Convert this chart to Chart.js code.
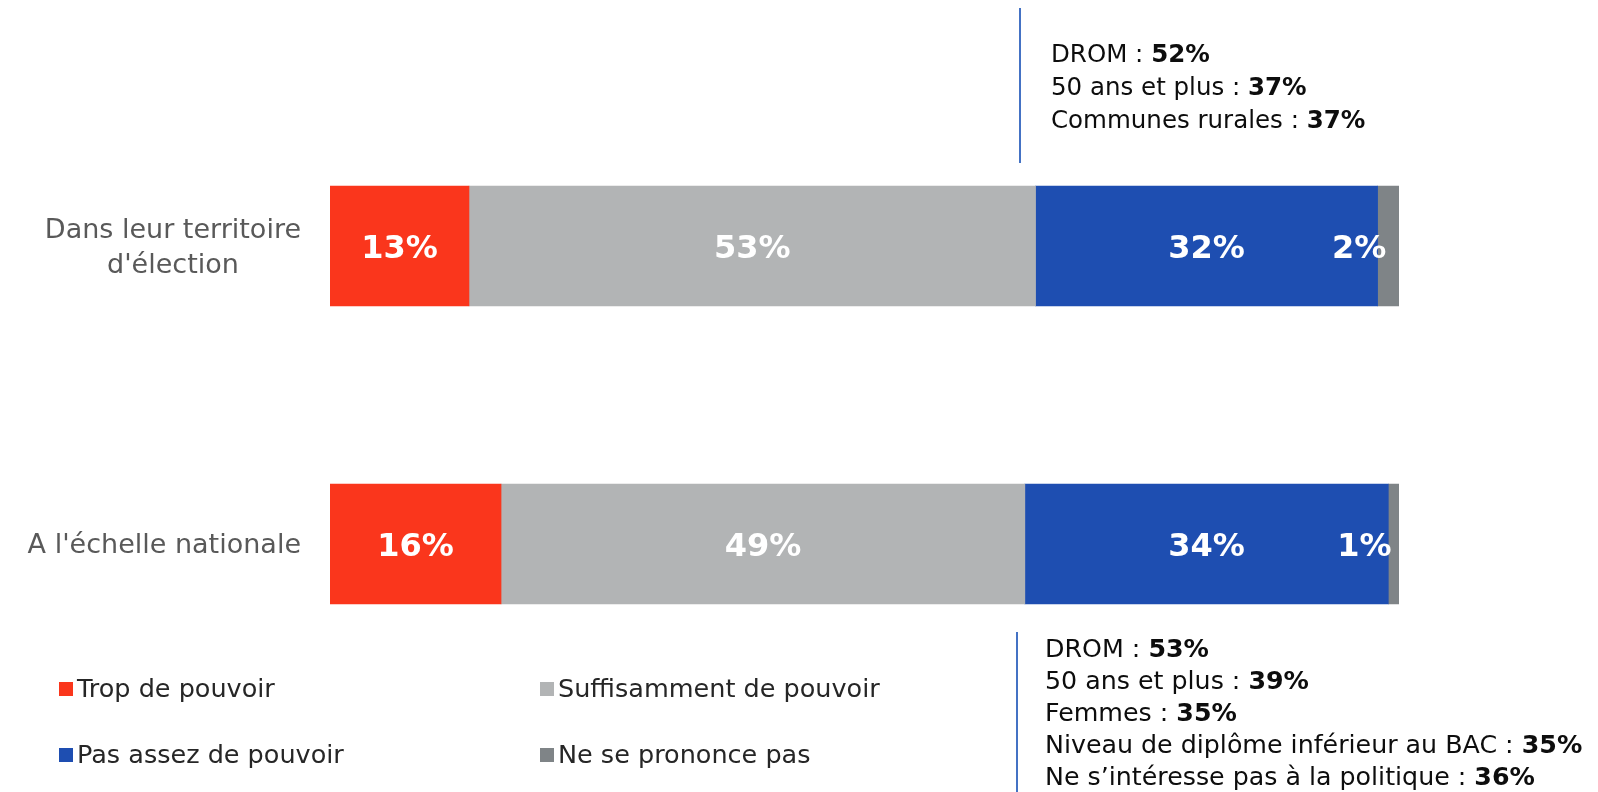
<!DOCTYPE html>
<html lang="fr">
<head>
    <meta charset="UTF-8">
    <title>Pouvoir des élus</title>
    <style>
        body {
            margin: 0;
            padding: 0;
            background: #ffffff;
        }
        #powerChart {
            display: block;
        }
    </style>
    <script src="https://cdn.jsdelivr.net/npm/chart.js"></script>
</head>
<body>

<canvas id="powerChart" width="1598" height="792" style="width:1598px;height:792px;"></canvas>

<script>
    // Data
    const categories = [["Dans leur territoire", "d'élection"], "A l'échelle nationale"];
    const seriesNames = ['Trop de pouvoir', 'Suffisamment de pouvoir', 'Pas assez de pouvoir', 'Ne se prononce pas'];
    const tropDePouvoir = [13, 16];
    const suffisamment = [53, 49];
    const pasAssez = [32, 34];
    const nsp = [2, 1];
    const seriesColors = ['#FA361C', '#B2B4B5', '#1E4EB1', '#7F8487'];

    // Sub-group notes ([label, value])
    const notesTerritoire = [
        ['DROM : ', '52%'],
        ['50 ans et plus : ', '37%'],
        ['Communes rurales : ', '37%']
    ];
    const notesNational = [
        ['DROM : ', '53%'],
        ['50 ans et plus : ', '39%'],
        ['Femmes : ', '35%'],
        ['Niveau de diplôme inférieur au BAC : ', '35%'],
        ['Ne s\u2019intéresse pas à la politique : ', '36%']
    ];

    const FONT = "'DejaVu Sans', 'Noto Sans', sans-serif";

    // Category labels on the left (centred block, right edge at 301)
    const categoryLabels = {
        id: 'categoryLabels',
        afterDraw(chart) {
            const ctx = chart.ctx;
            const yScale = chart.scales.y;
            ctx.save();
            ctx.font = '27px ' + FONT;
            ctx.fillStyle = '#595959';
            ctx.textBaseline = 'middle';
            ctx.textAlign = 'center';
            categories.forEach((cat, i) => {
                const lines = Array.isArray(cat) ? cat : [cat];
                const w = Math.max(...lines.map(l => ctx.measureText(l).width));
                const cx = 301 - w / 2;
                const y = yScale.getPixelForValue(i) + 2;
                const lh = 35;
                lines.forEach((line, j) => {
                    ctx.fillText(line, cx, y + (j - (lines.length - 1) / 2) * lh);
                });
            });
            ctx.restore();
        }
    };

    // Value labels inside the bars
    const valueLabels = {
        id: 'valueLabels',
        afterDatasetsDraw(chart) {
            const ctx = chart.ctx;
            ctx.save();
            ctx.font = 'bold 32px ' + FONT;
            ctx.fillStyle = '#ffffff';
            ctx.textBaseline = 'middle';
            chart.data.datasets.forEach((ds, di) => {
                const meta = chart.getDatasetMeta(di);
                meta.data.forEach((bar, i) => {
                    const text = ds.data[i] + '%';
                    const left = Math.min(bar.x, bar.base);
                    const right = Math.max(bar.x, bar.base);
                    const tw = ctx.measureText(text).width;
                    if (right - left > tw + 6) {
                        ctx.textAlign = 'center';
                        ctx.fillText(text, (left + right) / 2, bar.y + 4);
                    } else {
                        ctx.textAlign = 'right';
                        ctx.fillText(text, (left + right) / 2 - 2, bar.y + 4);
                    }
                });
            });
            ctx.restore();
        }
    };

    // Notes with a vertical blue rule
    function drawNotes(ctx, notes, size, lineX, lineTop, lineBottom, textX, firstBaseline, step) {
        ctx.strokeStyle = '#4472C4';
        ctx.lineWidth = 2;
        ctx.beginPath();
        ctx.moveTo(lineX, lineTop);
        ctx.lineTo(lineX, lineBottom);
        ctx.stroke();
        ctx.fillStyle = '#0d0d0d';
        ctx.textAlign = 'left';
        ctx.textBaseline = 'alphabetic';
        notes.forEach((n, i) => {
            const y = firstBaseline + i * step;
            ctx.font = size + 'px ' + FONT;
            ctx.fillText(n[0], textX, y);
            const w = ctx.measureText(n[0]).width;
            ctx.font = 'bold ' + size + 'px ' + FONT;
            ctx.fillText(n[1], textX + w, y);
        });
    }

    const notesPlugin = {
        id: 'notes',
        afterDraw(chart) {
            const ctx = chart.ctx;
            ctx.save();
            drawNotes(ctx, notesTerritoire, 24.5, 1020, 8, 163, 1051, 62, 33);
            drawNotes(ctx, notesNational, 25.3, 1017, 632, 792, 1045, 657, 32);
            ctx.restore();
        }
    };

    // Legend in two columns at the bottom left
    const legendPlugin = {
        id: 'twoColLegend',
        afterDraw(chart) {
            const ctx = chart.ctx;
            const cols = [59, 540];
            const rows = [689, 755];
            ctx.save();
            ctx.font = '25.5px ' + FONT;
            ctx.textBaseline = 'middle';
            ctx.textAlign = 'left';
            chart.data.datasets.forEach((ds, i) => {
                const x = cols[i % 2];
                const y = rows[Math.floor(i / 2)];
                ctx.fillStyle = ds.backgroundColor;
                ctx.fillRect(x, y - 7, 14, 14);
                ctx.fillStyle = '#262626';
                ctx.fillText(ds.label, x + 18, y + 1);
            });
            ctx.restore();
        }
    };

    const seriesData = [tropDePouvoir, suffisamment, pasAssez, nsp];

    new Chart(document.getElementById('powerChart'), {
        type: 'bar',
        data: {
            labels: categories,
            datasets: seriesNames.map((name, i) => ({
                label: name,
                data: seriesData[i],
                backgroundColor: seriesColors[i],
                borderWidth: 0,
                barThickness: 120
            }))
        },
        options: {
            indexAxis: 'y',
            responsive: false,
            animation: false,
            layout: {
                padding: { left: 330, right: 199, top: 97, bottom: 99 }
            },
            scales: {
                x: { stacked: true, min: 0, max: 100, display: false },
                y: { stacked: true, display: false }
            },
            plugins: {
                legend: { display: false },
                tooltip: { enabled: false }
            }
        },
        plugins: [valueLabels, categoryLabels, notesPlugin, legendPlugin]
    });
</script>

</body>
</html>
